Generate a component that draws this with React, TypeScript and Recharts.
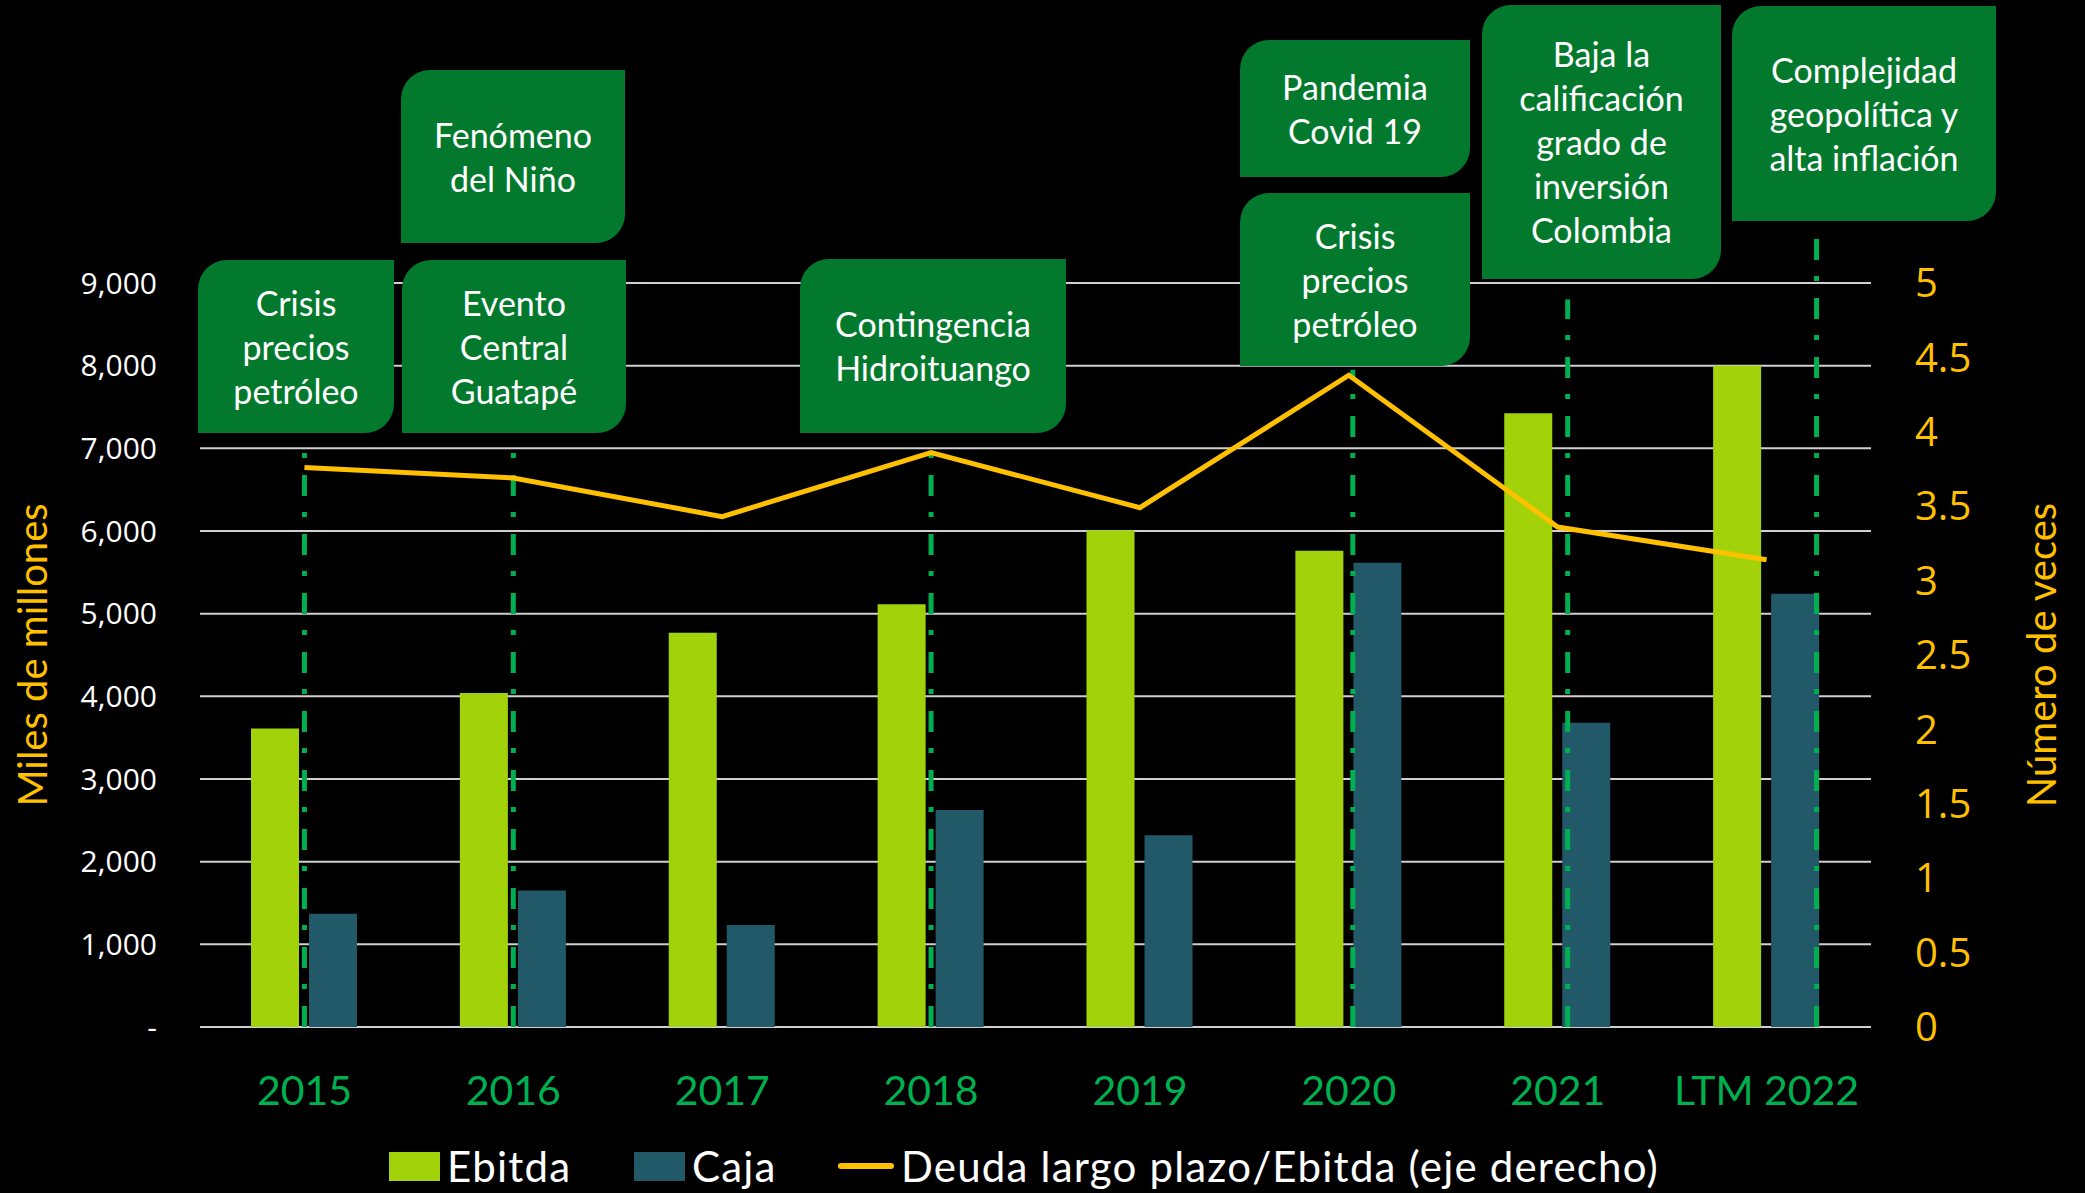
import { ComposedChart, Bar, Line, XAxis, YAxis, CartesianGrid, ReferenceLine } from 'recharts';

const CATEGORIES = ['2015', '2016', '2017', '2018', '2019', '2020', '2021', 'LTM 2022'];
const EBITDA = [3610, 4040, 4770, 5115, 6010, 5760, 7425, 8000];
const CAJA = [1370, 1650, 1235, 2625, 2320, 5615, 3680, 5240];
const DEUDA_EBITDA = [3.76, 3.69, 3.43, 3.86, 3.49, 4.38, 3.36, 3.14];

const LEFT_TICKS = [0, 1000, 2000, 3000, 4000, 5000, 6000, 7000, 8000, 9000];
const RIGHT_TICKS = [0, 0.5, 1, 1.5, 2, 2.5, 3, 3.5, 4, 4.5, 5];

const SERIES_NAMES = ['Ebitda', 'Caja', 'Deuda largo plazo/Ebitda (eje derecho)'];

// events marked with a dash-dot line, and how high each line reaches (left axis units)
const EVENT_CATEGORIES = ['2015', '2016', '2018', '2020', '2021', 'LTM 2022'];
const EVENT_LINE_TOPS = [7000, 7000, 7000, 7950, 8800, 9600];

const EVENT_TEXT = [
  ['Crisis', 'precios', 'petróleo'],
  ['Fenómeno', 'del Niño'],
  ['Evento', 'Central', 'Guatapé'],
  ['Contingencia', 'Hidroituango'],
  ['Pandemia', 'Covid 19'],
  ['Crisis', 'precios', 'petróleo'],
  ['Baja la', 'calificación', 'grado de', 'inversión', 'Colombia'],
  ['Complejidad', 'geopolítica y', 'alta inflación'],
];

// layout only
const LINE_SHIFT = [0, 0, 0, 4, 10, 50];
const BOXES = [
  { left: 198, top: 260, width: 196, height: 173 },
  { left: 401, top: 70, width: 224, height: 173 },
  { left: 402, top: 260, width: 224, height: 173 },
  { left: 800, top: 259, width: 266, height: 174 },
  { left: 1240, top: 40, width: 230, height: 137 },
  { left: 1240, top: 193, width: 230, height: 173 },
  { left: 1482, top: 5, width: 239, height: 274 },
  { left: 1732, top: 6, width: 264, height: 215 },
];
const LEGEND_LEFT = [389, 634, 838];

const C_EBITDA = '#A2D30A';
const C_CAJA = '#215968';
const C_LINE = '#FFC000';
const C_EVENT = '#00B050';
const C_BOX = '#03792E';

const data = CATEGORIES.map((c, i) => ({
  name: c,
  ebitda: EBITDA[i],
  caja: CAJA[i],
  ratio: DEUDA_EBITDA[i],
}));

const fmtLeft = (v: number) => (v === 0 ? '-' : v.toLocaleString('en-US'));

function XTick({ x, y, payload }: any) {
  return (
    <text
      x={x}
      y={y}
      dy={62}
      textAnchor="middle"
      dominantBaseline="central"
      fill={C_EVENT}
      fontSize={41}
      fontFamily="Lato"
    >
      {payload.value}
    </text>
  );
}

function AxisTitle({ viewBox, value, side }: any) {
  const { x, y, width, height } = viewBox;
  const cx = side === 'left' ? x + 32 : x + width - 44;
  const cy = y + height / 2;
  return (
    <text
      x={cx}
      y={cy}
      transform={`rotate(-90 ${cx} ${cy})`}
      textAnchor="middle"
      dominantBaseline="central"
      fill={C_LINE}
      fontSize={40}
      fontFamily="Lato"
    >
      {value}
    </text>
  );
}

const dashShape = (dx: number) => (p: any) => (
  <line
    x1={p.x1 + dx}
    x2={p.x2 + dx}
    y1={p.y1}
    y2={p.y2}
    stroke={C_EVENT}
    strokeWidth={5}
    strokeDasharray="21 17 5 16"
  />
);

function LegendRow() {
  const text = {
    color: '#FFFFFF',
    fontFamily: 'Lato',
    fontSize: 42,
    lineHeight: '50px',
    letterSpacing: 1.2,
  };
  const item = {
    position: 'absolute' as const,
    top: 1141,
    height: 50,
    display: 'flex',
    alignItems: 'center',
    whiteSpace: 'nowrap' as const,
  };
  return (
    <>
      <div style={{ ...item, left: LEGEND_LEFT[0] }}>
        <div style={{ width: 51, height: 29, background: C_EBITDA, marginRight: 7 }} />
        <span style={text}>{SERIES_NAMES[0]}</span>
      </div>
      <div style={{ ...item, left: LEGEND_LEFT[1] }}>
        <div style={{ width: 51, height: 29, background: C_CAJA, marginRight: 7 }} />
        <span style={text}>{SERIES_NAMES[1]}</span>
      </div>
      <div style={{ ...item, left: LEGEND_LEFT[2] }}>
        <div style={{ width: 56, height: 6, background: C_LINE, borderRadius: 3, marginRight: 7 }} />
        <span style={text}>{SERIES_NAMES[2]}</span>
      </div>
    </>
  );
}

export default function App() {
  return (
    <div
      style={{
        position: 'absolute',
        left: 0,
        top: 0,
        width: 2085,
        height: 1193,
        background: '#000000',
        overflow: 'hidden',
      }}
    >
      <ComposedChart
        width={2085}
        height={1193}
        data={data}
        margin={{ top: 283, right: 0, bottom: 0, left: 0 }}
        barGap={10}
      >
        <CartesianGrid yAxisId="left" vertical={false} stroke="#D0D0D0" strokeWidth={2} />
        <XAxis
          dataKey="name"
          height={166}
          axisLine={false}
          tickLine={false}
          tickSize={0}
          tickMargin={0}
          interval={0}
          tick={<XTick />}
        />
        <YAxis
          yAxisId="left"
          orientation="left"
          width={200}
          domain={[0, 9000]}
          ticks={LEFT_TICKS}
          tickFormatter={fmtLeft}
          axisLine={false}
          tickLine={false}
          tickSize={0}
          tickMargin={43}
          tick={{ fill: '#FFFFFF', fontSize: 30, fontFamily: 'Open Sans' }}
          label={{ content: (p: any) => <AxisTitle {...p} value="Miles de millones" side="left" /> }}
        />
        <YAxis
          yAxisId="right"
          orientation="right"
          width={214}
          domain={[0, 5]}
          ticks={RIGHT_TICKS}
          axisLine={false}
          tickLine={false}
          tickSize={0}
          tickMargin={44}
          tick={{ fill: C_LINE, fontSize: 40, fontFamily: 'Open Sans' }}
          label={{ content: (p: any) => <AxisTitle {...p} value="Número de veces" side="right" /> }}
        />
        <Bar yAxisId="left" dataKey="ebitda" name={SERIES_NAMES[0]} fill={C_EBITDA} barSize={48} isAnimationActive={false} />
        <Bar yAxisId="left" dataKey="caja" name={SERIES_NAMES[1]} fill={C_CAJA} barSize={48} isAnimationActive={false} />
        {EVENT_CATEGORIES.map((c, i) => (
          <ReferenceLine
            key={c}
            yAxisId="left"
            segment={[
              { x: c, y: 0 },
              { x: c, y: EVENT_LINE_TOPS[i] },
            ]}
            ifOverflow="visible"
            shape={dashShape(LINE_SHIFT[i])}
          />
        ))}
        <Line
          yAxisId="right"
          type="linear"
          dataKey="ratio"
          name={SERIES_NAMES[2]}
          stroke={C_LINE}
          strokeWidth={5}
          dot={false}
          activeDot={false}
          isAnimationActive={false}
        />
      </ComposedChart>

      {BOXES.map((b, i) => (
        <div
          key={i}
          style={{
            position: 'absolute',
            left: b.left,
            top: b.top,
            width: b.width,
            height: b.height,
            background: C_BOX,
            borderRadius: '29px 0 29px 0',
            display: 'flex',
            flexDirection: 'column',
            alignItems: 'center',
            justifyContent: 'center',
            color: '#FFFFFF',
            fontFamily: 'Lato',
            fontSize: 34,
            lineHeight: '44px',
            textAlign: 'center',
          }}
        >
          {EVENT_TEXT[i].map((t, j) => (
            <div key={j} style={{ whiteSpace: 'nowrap' }}>
              {t}
            </div>
          ))}
        </div>
      ))}

      <LegendRow />
    </div>
  );
}
